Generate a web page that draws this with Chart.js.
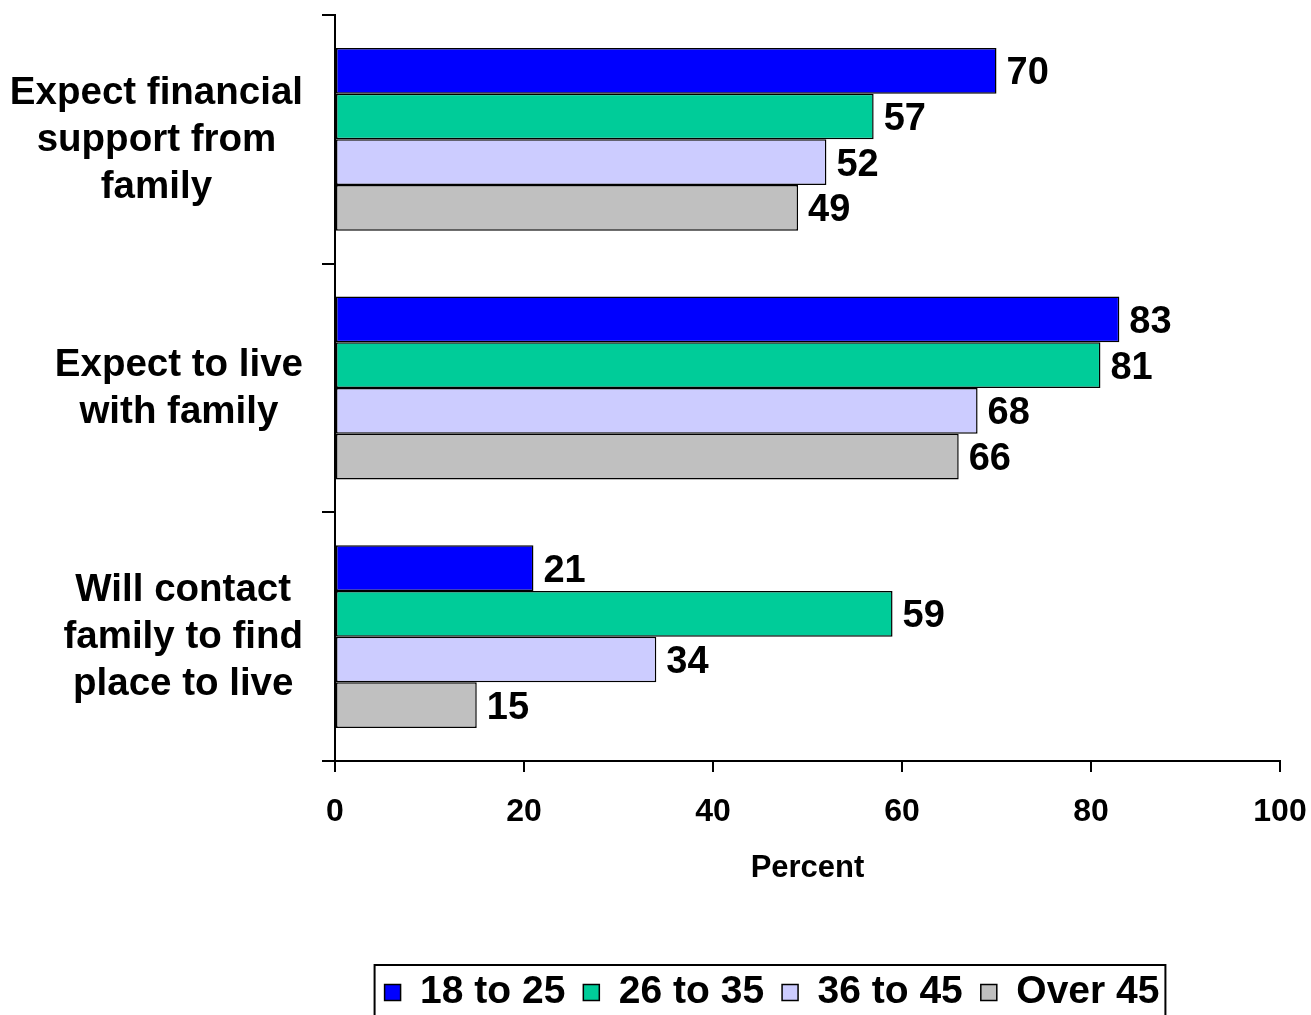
<!DOCTYPE html>
<html>
<head>
<meta charset="utf-8">
<script src="https://cdn.jsdelivr.net/npm/chart.js@4/dist/chart.umd.min.js"></script>
<style>
  html, body { margin: 0; padding: 0; background: #fff; overflow: hidden; }
  #wrap { width: 1311px; height: 1022px; position: relative; }
</style>
</head>
<body>
<div id="wrap"><canvas id="chart"></canvas></div>
<script>
// data
const categories = [
  ['Expect financial', 'support from', 'family'],
  ['Expect to live', 'with family'],
  ['Will contact', 'family to find', 'place to live']
];
const seriesNames = ['18 to 25', '26 to 35', '36 to 45', 'Over 45'];
const age18to25 = [70, 83, 21];
const age26to35 = [57, 81, 59];
const age36to45 = [52, 68, 34];
const ageOver45 = [49, 66, 15];
const xTicks = [0, 20, 40, 60, 80, 100];

const SERIES_COLORS = ['#0000FF', '#00CC99', '#CCCCFF', '#C0C0C0'];
const FONT = "'Liberation Sans', Arial, sans-serif";
const LEGEND_SHIFT = 132;

// category labels, centred per block, right edge near the axis
const catLabelPlugin = {
  id: 'catLabels',
  afterDraw(chart) {
    const { ctx } = chart;
    const y = chart.scales.y;
    ctx.save();
    ctx.font = `bold 38.5px ${FONT}`;
    ctx.fillStyle = '#000';
    ctx.textAlign = 'center';
    ctx.textBaseline = 'middle';
    categories.forEach((lines, i) => {
      const cy = y.getPixelForTick(i) + 1;
      const maxW = Math.max(...lines.map(l => ctx.measureText(l).width));
      const cx = 303 - maxW / 2;
      lines.forEach((l, j) => ctx.fillText(l, cx, cy + (j - (lines.length - 1) / 2) * 47));
    });
    ctx.restore();
  }
};

// value labels right of each bar
const valueLabelPlugin = {
  id: 'valueLabels',
  afterDatasetsDraw(chart) {
    const { ctx } = chart;
    ctx.save();
    ctx.font = `bold 38px ${FONT}`;
    ctx.fillStyle = '#000';
    ctx.textAlign = 'left';
    ctx.textBaseline = 'middle';
    chart.data.datasets.forEach((ds, di) => {
      chart.getDatasetMeta(di).data.forEach((bar, i) => {
        ctx.fillText(String(ds.data[i]), bar.x + 10, bar.y + 3);
      });
    });
    ctx.restore();
  }
};

// legend sits right of centre in the reference, with a box round it
const legendBoxPlugin = {
  id: 'legendBox',
  afterLayout(chart) {
    const lg = chart.legend;
    if (!lg) return;
    lg.left += LEGEND_SHIFT;
    lg.right += LEGEND_SHIFT;
  },
  afterDraw(chart) {
    const lg = chart.legend;
    if (!lg || !lg.legendHitBoxes.length) return;
    const hb = lg.legendHitBoxes;
    const left = Math.min(...hb.map(h => h.left)) - 10;
    const right = Math.max(...hb.map(h => h.left + h.width)) + 6;
    const top = lg.top + 10;
    const { ctx } = chart;
    ctx.save();
    ctx.strokeStyle = '#000';
    ctx.lineWidth = 2;
    ctx.strokeRect(left, top, right - left, 200);
    ctx.restore();
  }
};

const seriesData = [age18to25, age26to35, age36to45, ageOver45];

new Chart(document.getElementById('chart'), {
  type: 'bar',
  data: {
    labels: categories.map(c => c.join(' ')),
    datasets: seriesNames.map((name, i) => ({
      label: name,
      data: seriesData[i],
      backgroundColor: SERIES_COLORS[i],
      borderColor: '#000',
      borderWidth: 1.5,
      borderSkipped: false,
      categoryPercentage: 0.735,
      barPercentage: 1.0
    }))
  },
  options: {
    indexAxis: 'y',
    responsive: true,
    maintainAspectRatio: false,
    animation: false,
    layout: { padding: { top: 15, right: 31, left: 0, bottom: 0 } },
    plugins: {
      legend: {
        position: 'bottom',
        labels: {
          font: { family: FONT, size: 39, weight: 'bold' },
          color: '#000',
          boxWidth: 16,
          boxHeight: 16,
          padding: 18
        }
      },
      tooltip: { enabled: false }
    },
    scales: {
      x: {
        min: 0,
        max: 100,
        afterBuildTicks: s => { s.ticks = xTicks.map(v => ({ value: v })); },
        afterFit: s => { s.height = 194; s.paddingLeft = 0; s.paddingRight = 0; },
        border: { display: true, color: '#000', width: 2 },
        grid: { drawOnChartArea: false, color: '#000', lineWidth: 2, tickLength: 11 },
        ticks: { font: { family: FONT, size: 32, weight: 'bold' }, color: '#000', padding: 21 },
        title: {
          display: true,
          text: 'Percent',
          color: '#000',
          font: { family: FONT, size: 31, weight: 'bold' },
          padding: { top: 0, bottom: 68 }
        }
      },
      y: {
        afterFit: s => { s.width = 335; },
        border: { display: true, color: '#000', width: 2 },
        grid: { drawOnChartArea: false, color: '#000', lineWidth: 2, tickLength: 13 },
        ticks: { display: false }
      }
    }
  },
  plugins: [catLabelPlugin, valueLabelPlugin, legendBoxPlugin]
});
</script>
</body>
</html>
